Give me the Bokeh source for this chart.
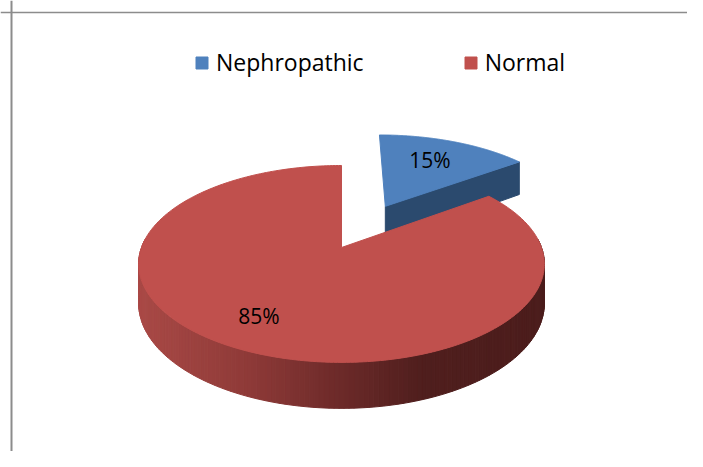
import numpy as np
from bokeh.plotting import figure
from bokeh.models import Range1d, Span, Legend, LegendItem, ColumnDataSource
from bokeh.core.properties import value
from bokeh.embed import file_html
from bokeh.resources import INLINE

# ---- data ----
categories = ["Nephropathic", "Normal"]
values = [15, 85]
labels = ["15%", "85%"]
top_colors = ["#4F81BD", "#C0504D"]
side_colors = ["#2B4A6E", None]  # red side uses a gradient

# ---- layout / style constants (pixels, y downward) ----
W, H = 687, 451
CX, CY = 341.0, 247.0      # projected pie centre
F, G = 200.0, 95.7          # horizontal / vertical radii scale
C = 0.167                   # perspective strength
DEPTH = 38.3                # pie thickness
EXPLODE = [0.52, 0.0]       # explode distance per slice (radius units)
LABEL_R = [0.62, 0.80]      # label radius per slice
LABEL_DY = [-4, -9]         # label vertical nudge

def proj(u, v):
    d = 1.0 - C * v
    return CX + F * u / d, CY + G * v / d

def depth(v):
    return DEPTH / (1.0 - C * v)

p = figure(width=W, height=H, output_backend="svg", toolbar_location=None,
           x_range=Range1d(0, W), y_range=Range1d(H, 0), min_border=0,
           x_axis_type=None, y_axis_type=None)
p.outline_line_color = None
p.grid.visible = False

total = float(sum(values))
fr = np.cumsum([0.0] + [v / total for v in values])
starts = fr[:-1] * 2 * np.pi
ends = fr[1:] * 2 * np.pi

grad_x = [137, 250, 330, 420, 545]
grad_r = [170, 142, 112, 80, 76]
grad_g = [74, 58, 44, 31, 29]
grad_b = [71, 56, 43, 30, 28]

top_renderers = []
label_x, label_y = [], []
for i in range(len(values)):
    a0, a1 = starts[i], ends[i]
    mid = 0.5 * (a0 + a1)
    ou, ov = EXPLODE[i] * np.sin(mid), -EXPLODE[i] * np.cos(mid)
    th = np.linspace(a0, a1, 200)
    us = ou + np.sin(th)
    vs = ov - np.cos(th)
    # ---- side faces ----
    if i == 0:
        # radial face at end angle (faces viewer)
        vx, vy = proj(ou, ov)
        ex, ey = proj(us[-1], vs[-1])
        xs = [vx, ex, ex, vx]
        ys = [vy, ey, ey + depth(vs[-1]), vy + depth(ov)]
        p.patch(xs, ys, fill_color=side_colors[0], line_color=side_colors[0], line_width=1)
    else:
        lo, hi = max(a0, np.radians(85)), min(a1, np.radians(275))
        ths = np.linspace(lo, hi, 160)
        su = ou + np.sin(ths)
        sv = ov - np.cos(ths)
        px, py = proj(su, sv)
        dd = depth(sv)
        qx, qy, cols = [], [], []
        for k in range(len(ths) - 1):
            qx.append([px[k], px[k + 1], px[k + 1], px[k]])
            qy.append([py[k], py[k + 1], py[k + 1] + dd[k + 1], py[k] + dd[k]])
            xm = 0.5 * (px[k] + px[k + 1])
            r = int(np.interp(xm, grad_x, grad_r))
            g = int(np.interp(xm, grad_x, grad_g))
            b = int(np.interp(xm, grad_x, grad_b))
            cols.append("#%02x%02x%02x" % (r, g, b))
        src = ColumnDataSource(dict(xs=qx, ys=qy, c=cols))
        p.patches("xs", "ys", source=src, fill_color="c", line_color="c", line_width=1)
    # label position
    lx, ly = proj(ou + LABEL_R[i] * np.sin(mid), ov - LABEL_R[i] * np.cos(mid))
    label_x.append(lx)
    label_y.append(ly + LABEL_DY[i])

# top faces: exploded (back) slice first, then main slice
for i in range(len(values)):
    a0, a1 = starts[i], ends[i]
    mid = 0.5 * (a0 + a1)
    ou, ov = EXPLODE[i] * np.sin(mid), -EXPLODE[i] * np.cos(mid)
    th = np.linspace(a0, a1, 300)
    us = np.concatenate([[ou], ou + np.sin(th)])
    vs = np.concatenate([[ov], ov - np.cos(th)])
    xs, ys = proj(us, vs)
    r = p.patch(list(xs), list(ys), fill_color=top_colors[i], line_color=top_colors[i], line_width=1)
    top_renderers.append(r)

p.text(x=label_x, y=label_y, text=labels, text_font=value("Open Sans"),
       text_font_size="21px", text_align="center", text_baseline="middle",
       text_color="black")

# chart border (left and top visible)
p.add_layout(Span(location=11, dimension="height", line_color="#8c8c8c", line_width=2))
p.add_layout(Span(location=12, dimension="width", line_color="#8c8c8c", line_width=1.5))

legend = Legend(items=[LegendItem(label=categories[i], renderers=[top_renderers[i]]) for i in range(2)],
                location=(194, 373), orientation="horizontal",
                label_text_font="Open Sans", label_text_font_size="23px",
                label_text_color="black",
                glyph_width=15, glyph_height=15, label_standoff=7, spacing=99,
                padding=0, margin=0, border_line_color=None, background_fill_alpha=0)
p.add_layout(legend, "center")

open("out.html", "w").write(file_html(p, INLINE))
